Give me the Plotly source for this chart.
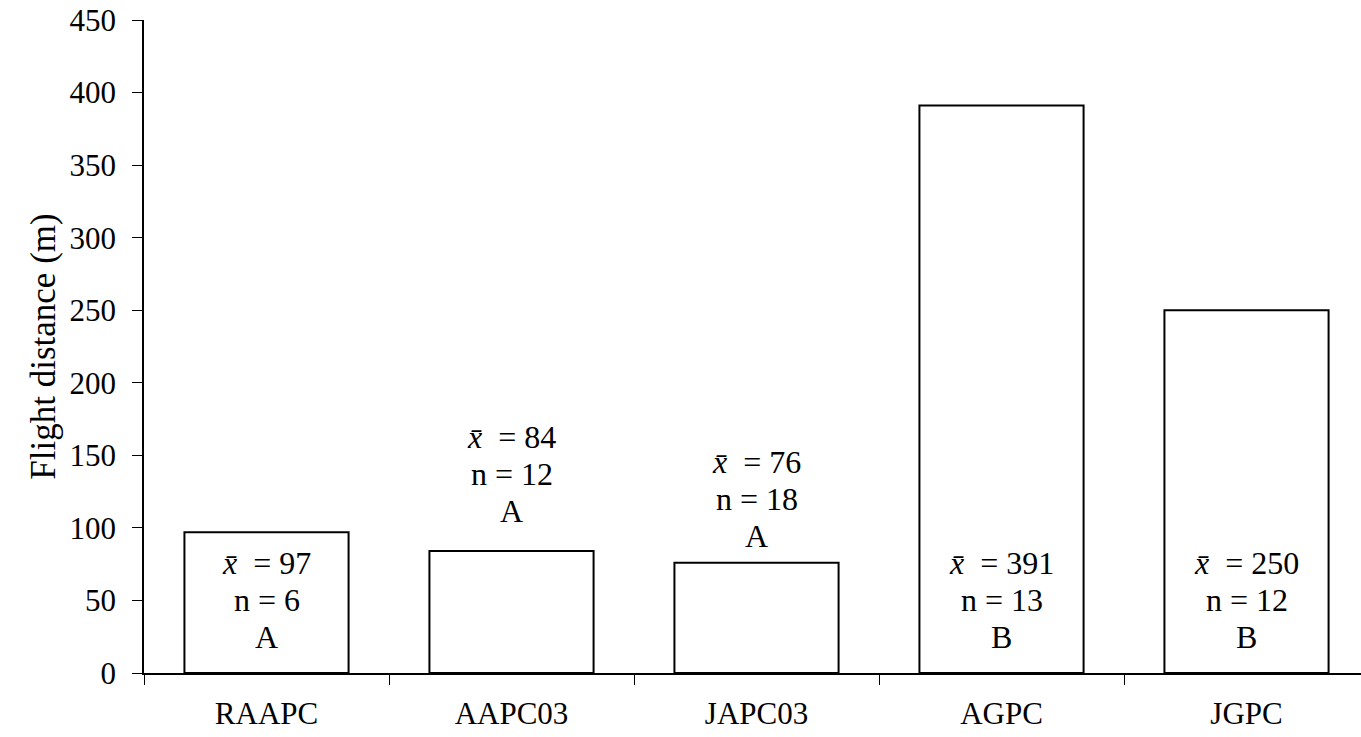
import plotly.graph_objects as go

categories = ["RAAPC", "AAPC03", "JAPC03", "AGPC", "JGPC"]
mean_distance = [97, 84, 76, 391, 250]
sample_size = [6, 12, 18, 13, 12]
group_letter = ["A", "A", "A", "B", "B"]

# layout: y (data units) of the middle text line for each category
label_center_y = [50, 137, 120, 50, 50]

FONT = "Liberation Serif, Times New Roman, serif"

fig = go.Figure()
fig.add_trace(go.Bar(
    x=categories,
    y=mean_distance,
    marker=dict(color="white", line=dict(color="black", width=2)),
    hoverinfo="x+y",
))

annotations = []
line_gap = 37
for cat, m, n, g, yc in zip(categories, mean_distance, sample_size, group_letter, label_center_y):
    lines = [
        "<i>x\u0304</i>\u00a0\u00a0= %d" % m,
        "n = %d" % n,
        g,
    ]
    for i, t in enumerate(lines):
        annotations.append(dict(
            x=cat, y=yc, xref="x", yref="y",
            text=t, showarrow=False,
            yshift=line_gap * (1 - i),
            xanchor="center", yanchor="middle",
            font=dict(family=FONT, size=32, color="black"),
        ))

W, H = 1361, 737
L, T, B = 144, 20, 64
CAT_W = 245  # pixels per category; last category runs past the right edge as in the reference

fig.update_layout(
    width=W, height=H,
    margin=dict(l=L, r=0, t=T, b=B, autoexpand=False),
    paper_bgcolor="white", plot_bgcolor="white",
    bargap=0.33,
    showlegend=False,
    font=dict(family=FONT, size=31, color="black"),
    annotations=annotations,
    xaxis=dict(
        type="category",
        range=[-0.5, -0.5 + (W - L) / CAT_W],
        automargin=False,
        showline=True, linecolor="black", linewidth=1.5,
        ticks="outside", tickson="boundaries", ticklen=10,
        tickcolor="black", tickwidth=1,
        showgrid=False, zeroline=False,
        tickfont=dict(family=FONT, size=31, color="black"),
        ticklabelstandoff=12,
    ),
    yaxis=dict(
        range=[0, 450],
        automargin=False,
        tickmode="array",
        tickvals=list(range(0, 451, 50)),
        ticktext=[str(v) for v in range(0, 451, 50)],
        showline=True, linecolor="black", linewidth=1.5,
        ticks="outside", ticklen=10, tickcolor="black", tickwidth=1,
        showgrid=False, zeroline=False,
        tickfont=dict(family=FONT, size=31, color="black"),
        ticklabelstandoff=10,
        ticklabeloverflow="allow",
        title=dict(text="Flight distance (m)",
                   font=dict(family=FONT, size=35, color="black"),
                   standoff=3),
    ),
)

fig.write_html(
    "out.html",
    config={"displayModeBar": False},
    post_script="document.body.style.margin='0';document.body.style.overflow='hidden';",
)
